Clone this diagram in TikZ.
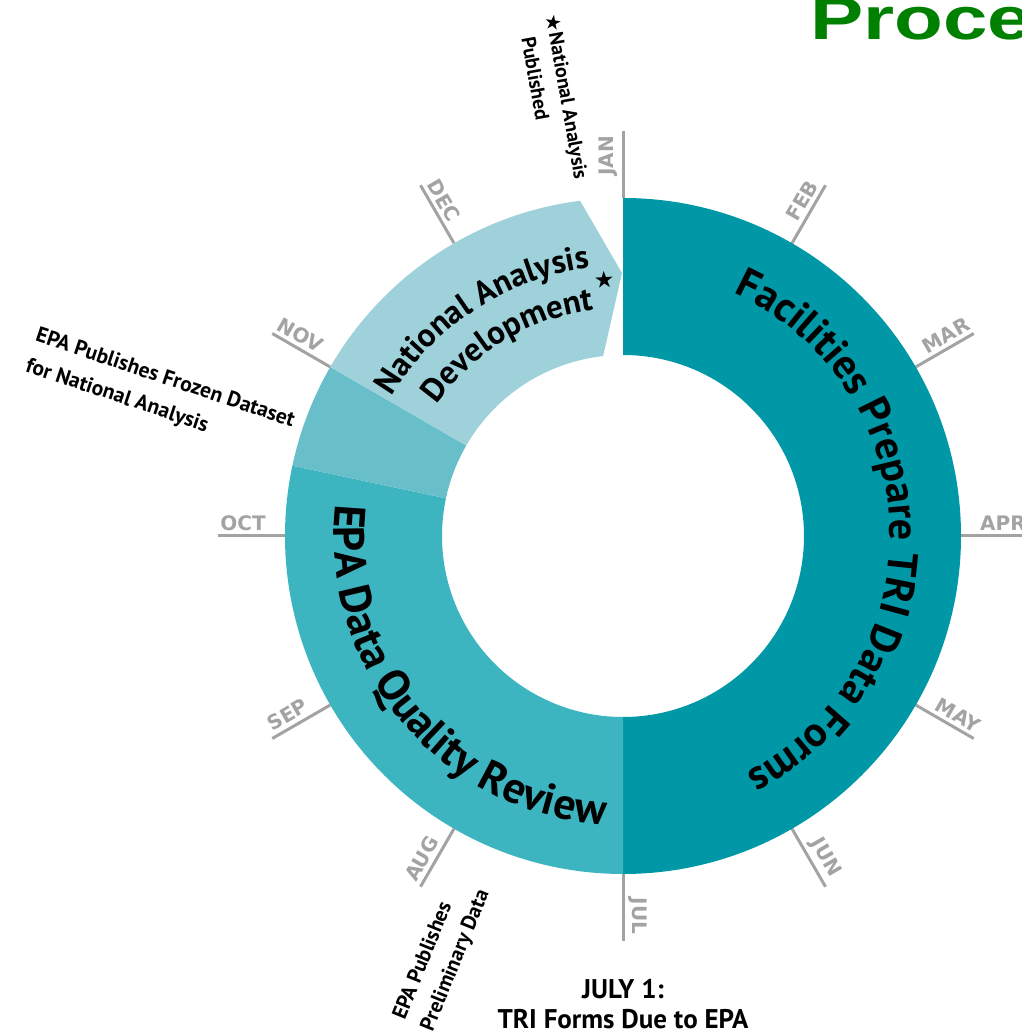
\documentclass[tikz,border=0pt]{standalone}
\usepackage{fontspec}
\setmainfont{PT Sans}
\newfontfamily\symfont{DejaVu Sans}
\newfontfamily\monthfont{DejaVu Sans}
\newfontfamily\titlefont{Liberation Sans}
\usetikzlibrary{decorations.text}
\definecolor{factcol}{RGB}{0,151,166}
\definecolor{qualcol}{RGB}{61,181,193}
\definecolor{frozcol}{RGB}{104,191,202}
\definecolor{devcol}{RGB}{159,209,219}
\definecolor{tickgray}{RGB}{163,163,163}
\definecolor{titlegreen}{RGB}{0,128,0}
\newcommand\ringfont{\bfseries\fontsize{42}{42}\selectfont}
\newcommand\epafont{\bfseries\fontsize{44}{44}\selectfont}
\newcommand\devfont{\bfseries\fontsize{33}{33}\selectfont}

\begin{document}
\begin{tikzpicture}[x=1pt,y=1pt,
    tick/.style={draw=tickgray,line width=3pt},
    month/.style={text=tickgray,font=\monthfont\bfseries\fontsize{20}{20}\selectfont,inner sep=5pt,anchor=south},
    note/.style={font=\bfseries\fontsize{21.5}{32}\selectfont,align=left,inner sep=0pt},
    ringtext/.style={decorate,decoration={text along path,text align=center,text={#1}}}]
  \useasboundingbox (-623,-499) rectangle (398,536);
  % month ticks
  \foreach \m [count=\i from 0] in {JAN,FEB,MAR,APR,MAY,JUN,JUL,AUG,SEP,OCT,NOV,DEC}{
    \pgfmathsetmacro\ang{90-30*\i}
    \pgfmathsetmacro\rot{\ang<-90 ? \ang+180 : \ang}
    \draw[tick] (\ang:338) -- (\ang:405);
    \node[month,rotate=\rot] (m\i) at (\ang:380) {\m};
  }
  % ring segments
  \fill[factcol] (90:338) arc[start angle=90,end angle=-90,radius=338]
    -- (-90:181) arc[start angle=-90,end angle=90,radius=181] -- cycle;
  \fill[qualcol] (168:338) arc[start angle=168,end angle=270,radius=338]
    -- (270:181) arc[start angle=270,end angle=168,radius=181] -- cycle;
  \fill[frozcol] (150:338) arc[start angle=150,end angle=168,radius=338]
    -- (168:181) arc[start angle=168,end angle=150,radius=181] -- cycle;
  \fill[devcol] (150:338) arc[start angle=150,end angle=97.3,radius=338]
    -- (-1,263) -- (96.3:181) arc[start angle=96.3,end angle=150,radius=181] -- cycle;
  % ring labels
  \path[ringtext={|\ringfont|Facilities Prepare TRI Data Forms}]
    (74:267) arc[start angle=74,end angle=-71,radius=267];
  \path[ringtext={|\epafont|EPA Data Quality Review}]
    (164:289) arc[start angle=164,end angle=276,radius=289];
  \path[ringtext={|\devfont|National Analysis}]
    (166:270) arc[start angle=166,end angle=80,radius=270];
  \path[ringtext={|\devfont|Development}]
    (165:228) arc[start angle=165,end angle=77,radius=228];
  \node[font=\symfont\fontsize{23}{23}\selectfont,rotate=3.5,inner sep=0pt] (devstar) at (94.2:257) {★};
  % notes
  \node[note,font=\bfseries\fontsize{20}{28}\selectfont,rotate=-80] (natpub) at (-68,428)
    {\llap{\symfont★}National Analysis\\Published};
  \node[note,rotate=-18.5] (frozen) at (-463,142) {EPA Publishes Frozen Dataset\\for National Analysis};
  \node[note,font=\bfseries\fontsize{21}{30}\selectfont,rotate=68] (prelim) at (-181,-419)
    {EPA Publishes\\Preliminary Data};
  \node[font=\bfseries\fontsize{27}{30}\selectfont,align=center,inner sep=0pt] (due) at (0,-468)
    {JULY 1:\\TRI Forms Due to EPA};
  \node[anchor=base west,text=titlegreen,font=\titlefont\bfseries\fontsize{60}{60}\selectfont,inner sep=0pt]
    (title) at (187,496) {\scalebox{1.33}[1]{Proce}};
\end{tikzpicture}
\end{document}
